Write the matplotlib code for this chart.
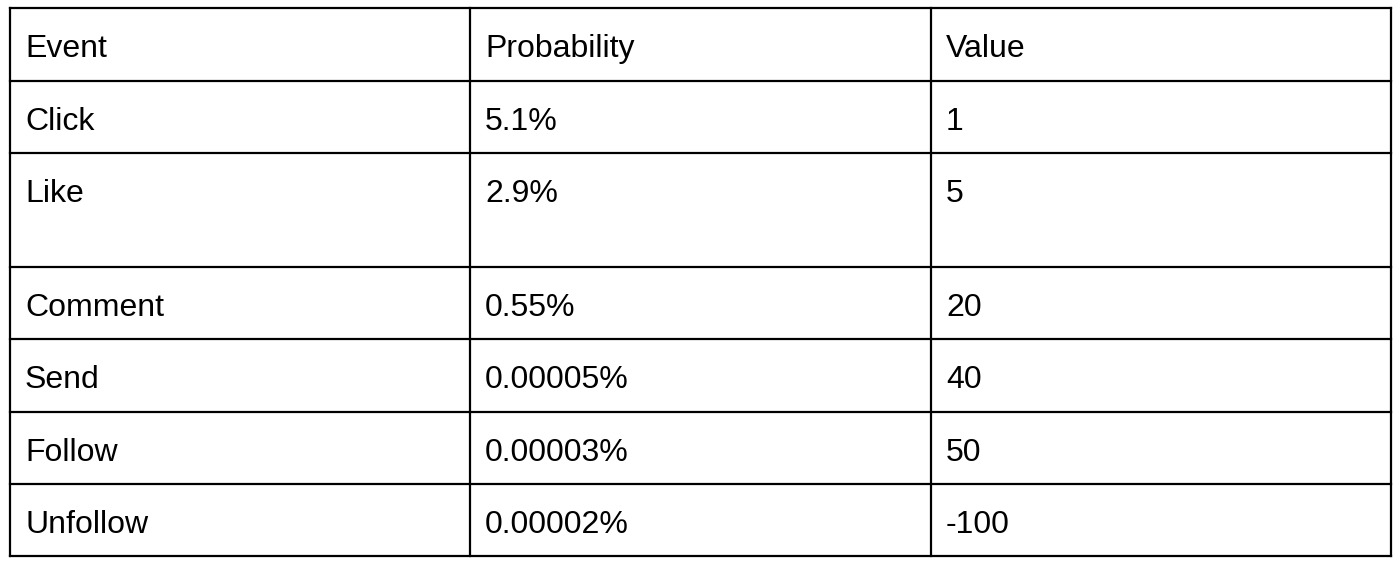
import matplotlib
matplotlib.use('Agg')
import matplotlib.pyplot as plt

plt.rcParams["font.family"] = ["Liberation Sans", "DejaVu Sans"]

header = ['Event', 'Probability', 'Value']
events = ['Click', 'Like', 'Comment', 'Send', 'Follow', 'Unfollow']
probabilities = ['5.1%', '2.9%', '0.55%', '0.00005%', '0.00003%', '0.00002%']
values = ['1', '5', '20', '40', '50', '-100']

# grid layout in pixels
row_edges = [8, 81, 153, 267, 339, 412, 484, 556]
col_edges = [10, 470, 931, 1391]

fig = plt.figure(figsize=(14, 5.67), dpi=100)
ax = fig.add_axes([0, 0, 1, 1])
ax.set_xlim(0, 1400)
ax.set_ylim(567, 0)
ax.set_axis_off()

for y in row_edges:
    ax.plot([col_edges[0], col_edges[-1]], [y, y], color='black', lw=1.6, solid_capstyle='projecting')
for x in col_edges:
    ax.plot([x, x], [row_edges[0], row_edges[-1]], color='black', lw=1.6, solid_capstyle='projecting')

rows = [header] + [list(r) for r in zip(events, probabilities, values)]
for i, row in enumerate(rows):
    for j, cell in enumerate(row):
        ax.text(col_edges[j] + 15, row_edges[i] + 49, cell, fontsize=23,
                ha='left', va='baseline', color='black')

fig.savefig('out.png', dpi=100, facecolor='white')
